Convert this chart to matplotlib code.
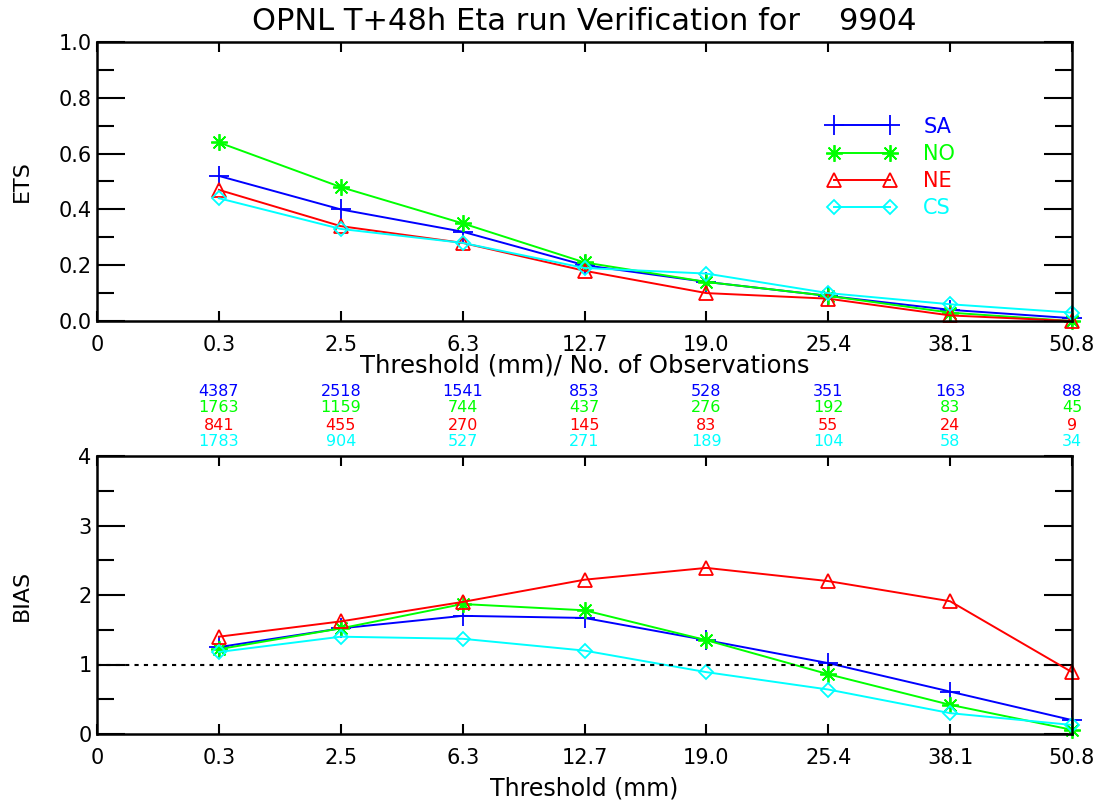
import matplotlib
matplotlib.use('Agg')
import matplotlib.pyplot as plt
import matplotlib.transforms as mtransforms
from matplotlib.ticker import MultipleLocator

# thresholds (mm), shown as categories 0..8 on the x axis
tick_labels = ['0', '0.3', '2.5', '6.3', '12.7', '19.0', '25.4', '38.1', '50.8']
x_pos = [1, 2, 3, 4, 5, 6, 7, 8]

regions = ['SA', 'NO', 'NE', 'CS']
colors = ['#0000ff', '#00ff00', '#ff0000', '#00ffff']

ets_sa = [0.52, 0.40, 0.32, 0.20, 0.14, 0.09, 0.04, 0.01]
ets_no = [0.64, 0.48, 0.35, 0.21, 0.14, 0.09, 0.03, 0.00]
ets_ne = [0.47, 0.34, 0.28, 0.18, 0.10, 0.08, 0.02, 0.00]
ets_cs = [0.44, 0.33, 0.28, 0.19, 0.17, 0.10, 0.06, 0.03]

bias_sa = [1.25, 1.52, 1.70, 1.67, 1.35, 1.02, 0.61, 0.20]
bias_no = [1.22, 1.52, 1.87, 1.78, 1.35, 0.86, 0.42, 0.06]
bias_ne = [1.40, 1.62, 1.90, 2.22, 2.39, 2.20, 1.91, 0.89]
bias_cs = [1.18, 1.40, 1.37, 1.20, 0.89, 0.64, 0.30, 0.13]

obs_sa = [4387, 2518, 1541, 853, 528, 351, 163, 88]
obs_no = [1763, 1159, 744, 437, 276, 192, 83, 45]
obs_ne = [841, 455, 270, 145, 83, 55, 24, 9]
obs_cs = [1783, 904, 527, 271, 189, 104, 58, 34]

ets = [ets_sa, ets_no, ets_ne, ets_cs]
bias = [bias_sa, bias_no, bias_ne, bias_cs]
obs = [obs_sa, obs_no, obs_ne, obs_cs]

# IDL-style symbols: plus, asterisk, open triangle, open diamond
markers = ['+', (8, 2, 0), '^', 'D']
msizes = [14, 12, 10, 7]

plt.rcParams['font.family'] = ['DejaVu Sans']

W, H = 1100, 802
fig = plt.figure(figsize=(W / 100, H / 100), dpi=100)

def frac(left, top, right, bottom):
    return [left / W, 1 - bottom / H, (right - left) / W, (bottom - top) / H]

ax1 = fig.add_axes(frac(97, 42, 1072, 321))
ax2 = fig.add_axes(frac(97, 456, 1072, 734))


def style_axes(ax, ymax, major, minor, fmt):
    ax.set_xlim(0, 8)
    ax.set_ylim(0, ymax)
    ax.set_xticks(range(len(tick_labels)))
    ax.set_xticklabels(tick_labels, fontsize=15)
    ax.yaxis.set_major_locator(MultipleLocator(major))
    ax.yaxis.set_minor_locator(MultipleLocator(minor))
    ax.set_yticklabels([fmt(v) for v in ax.get_yticks()], fontsize=15)
    ax.tick_params(axis='x', direction='in', length=7, width=1.5,
                   top=True, pad=10)
    ax.tick_params(axis='y', which='major', direction='in', length=20,
                   width=1.5, right=True, pad=4)
    ax.tick_params(axis='y', which='minor', direction='in', length=12,
                   width=1.5, right=True)
    for s in ax.spines.values():
        s.set_linewidth(1.8)


for vals, c, m, ms, name in zip(ets, colors, markers, msizes, regions):
    ax1.plot(x_pos, vals, color=c, lw=1.4, marker=m, ms=ms, mew=1.3,
             mfc='none', clip_on=False, label=name)
style_axes(ax1, 1.0, 0.2, 0.1, lambda v: f'{v:.1f}')
ax1.set_ylabel('ETS', fontsize=16)
ax1.yaxis.set_label_coords(-0.067, 0.5)

leg = ax1.legend(loc='upper left', bbox_to_anchor=(0.73, 0.80), frameon=False,
                 numpoints=2, handlelength=3.3, handletextpad=1.3,
                 labelspacing=0.35, fontsize=15, labelcolor='linecolor')

for vals, c, m, ms in zip(bias, colors, markers, msizes):
    ax2.plot(x_pos, vals, color=c, lw=1.4, marker=m, ms=ms, mew=1.3,
             mfc='none', clip_on=False)
ax2.axhline(1.0, color='black', lw=1.5, ls=(0, (2, 2.5)))
style_axes(ax2, 4.0, 1.0, 0.5, lambda v: f'{v:.0f}')
ax2.set_ylabel('BIAS', fontsize=16)
ax2.yaxis.set_label_coords(-0.067, 0.5)
ax2.set_xlabel('Threshold (mm)', fontsize=17, labelpad=6)

fig.text(0.5 * (97 + 1072) / W, 1 - 22 / H,
         'OPNL T+48h Eta run Verification for    9904',
         ha='center', va='center', fontsize=22)

fig.text(0.5 * (97 + 1072) / W, 1 - 365 / H,
         'Threshold (mm)/ No. of Observations',
         ha='center', va='center', fontsize=17.5)

# observation counts under each threshold
trans = mtransforms.blended_transform_factory(ax1.transData, fig.transFigure)
row_y = [392, 408, 425, 441]
for counts, c, yy in zip(obs, colors, row_y):
    for x, n in zip(x_pos, counts):
        ax1.text(x, 1 - yy / H, str(n), color=c, fontsize=11.5,
                 ha='center', va='center', transform=trans)

fig.savefig('out.png', dpi=100)
